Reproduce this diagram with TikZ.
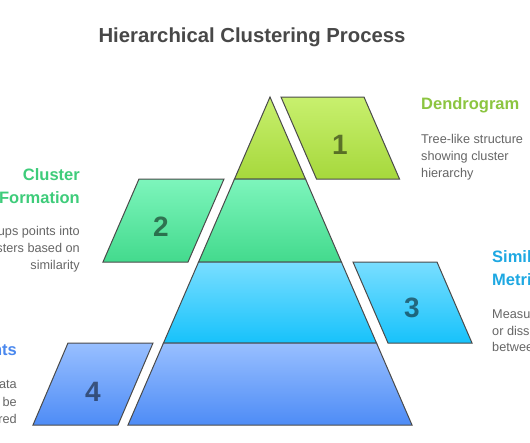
\documentclass[tikz,border=0pt]{standalone}
\usepackage{fontspec}
\setmainfont{Liberation Sans}
\definecolor{outl}{HTML}{4A4A4A}
\definecolor{gAt}{HTML}{C8F06E}\definecolor{gAb}{HTML}{A6D83C}
\definecolor{gBt}{HTML}{7DF5BC}\definecolor{gBb}{HTML}{43DA8D}
\definecolor{gCt}{HTML}{79DEFF}\definecolor{gCb}{HTML}{17C2FB}
\definecolor{gDt}{HTML}{98BFFF}\definecolor{gDb}{HTML}{4E8CF6}
\definecolor{titlec}{HTML}{484848}
\definecolor{bodyc}{HTML}{666666}
\definecolor{hA}{HTML}{8CC540}
\definecolor{hB}{HTML}{3ECC7A}
\definecolor{hC}{HTML}{1EA8E2}
\definecolor{hD}{HTML}{4A88EE}
\tikzset{
  shape box/.style={draw=outl, line width=1pt},
  lvA/.style={shape box, top color=gAt, bottom color=gAb},
  lvB/.style={shape box, top color=gBt, bottom color=gBb},
  lvC/.style={shape box, top color=gCt, bottom color=gCb},
  lvD/.style={shape box, top color=gDt, bottom color=gDb},
  num/.style={font=\bfseries\fontsize{28}{30}\selectfont, text=black, text opacity=0.5, inner sep=0pt},
  head/.style={font=\bfseries\fontsize{16.5}{20}\selectfont, inner sep=0pt},
  body/.style={font=\fontsize{12.7}{17}\selectfont, text=bodyc, inner sep=0pt},
}
\begin{document}
\begin{tikzpicture}[x=1pt,y=-1pt]
\useasboundingbox (0,0) rectangle (530,442);
\clip (0,0) rectangle (530,442);
\fill[white] (0,0) rectangle (530,442);

% title
\node[font=\bfseries\fontsize{20.3}{24}\selectfont, text=titlec, inner sep=0pt, anchor=base] (title) at (252,42) {Hierarchical Clustering Process};

% pyramid layers
\draw[lvA] (270,97) -- (305.5,179) -- (234.5,179) -- cycle;
\draw[lvB] (234.5,179) -- (305.5,179) -- (341.4,262) -- (198.6,262) -- cycle;
\draw[lvC] (198.6,262) -- (341.4,262) -- (376.5,343) -- (163.5,343) -- cycle;
\draw[lvD] (163.5,343) -- (376.5,343) -- (412,425) -- (128,425) -- cycle;

% parallelograms
\draw[lvA] (281,97) -- (364,97) -- (399.5,179) -- (316.5,179) -- cycle;
\draw[lvB] (139,179) -- (224,179) -- (188,262) -- (103,262) -- cycle;
\draw[lvC] (353,262) -- (437,262) -- (472,343) -- (388,343) -- cycle;
\draw[lvD] (68,343) -- (153,343) -- (118,425) -- (33,425) -- cycle;

\node[num] (n1) at (340,145) {1};
\node[num] (n2) at (161,227) {2};
\node[num] (n3) at (412,308) {3};
\node[num] (n4) at (93,392) {4};

% Dendrogram
\node[head, text=hA, anchor=base west] (hA1) at (421,109) {Dendrogram};
\node[body, anchor=base west] (bA1) at (421,143) {Tree-like structure};
\node[body, anchor=base west] (bA2) at (421,160) {showing cluster};
\node[body, anchor=base west] (bA3) at (421,177) {hierarchy};

% Cluster Formation
\node[head, text=hB, anchor=base east] (hB1) at (80,180) {Cluster};
\node[head, text=hB, anchor=base east] (hB2) at (80,203) {Formation};
\node[body, anchor=base east] (bB1) at (80,235) {Groups points into};
\node[body, anchor=base east] (bB2) at (80,252) {clusters based on};
\node[body, anchor=base east] (bB3) at (80,269) {similarity};

% Similarity Metrics
\node[head, text=hC, anchor=base west] (hC1) at (492,262) {Similarity};
\node[head, text=hC, anchor=base west] (hC2) at (492,285) {Metrics};
\node[body, anchor=base west] (bC1) at (492,318) {Measures similarity};
\node[body, anchor=base west] (bC2) at (492,335) {or dissimilarity};
\node[body, anchor=base west] (bC3) at (492,351) {between points};

% Data Points
\node[head, text=hD, anchor=base east] (hD1) at (17,355) {Data Points};
\node[body, anchor=base east] (bD1) at (17,388) {Raw data};
\node[body, anchor=base east] (bD2) at (17,406) {points to be};
\node[body, anchor=base east] (bD3) at (17,423) {clustered};
\end{tikzpicture}
\end{document}
